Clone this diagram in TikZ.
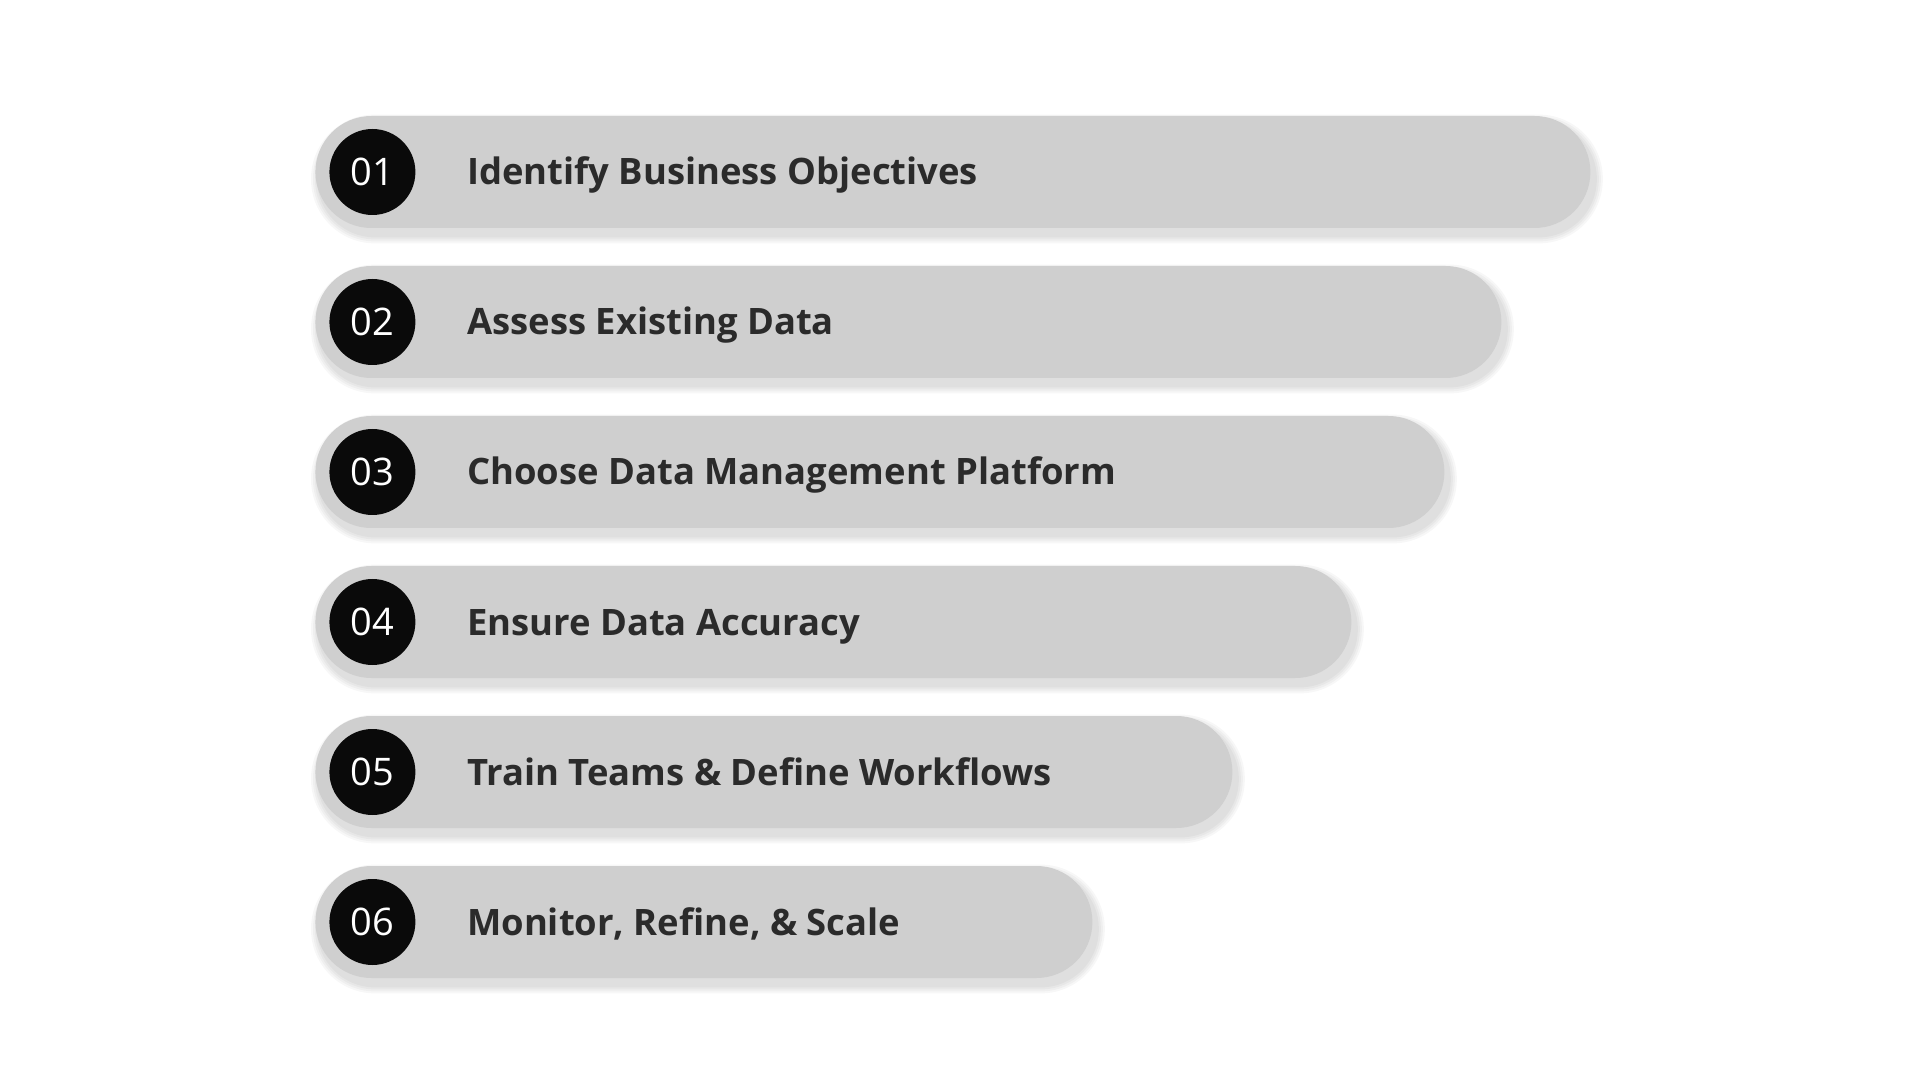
\documentclass[tikz,border=0pt]{standalone}
\usepackage{fontspec}
\setmainfont{Open Sans}
\usetikzlibrary{positioning,calc,backgrounds}
\definecolor{barfill}{HTML}{CFCFCF}
\definecolor{numfill}{HTML}{0A0A0A}
\definecolor{labeltext}{HTML}{2B2B2B}

\begin{document}
\begin{tikzpicture}[x=0.5pt,y=0.5pt,
    stepbar/.style={rectangle,rounded corners=28pt,fill=barfill,minimum height=56pt,inner sep=0pt,anchor=west},
    num/.style={circle,fill=numfill,text=white,minimum size=43pt,inner sep=0pt,font=\fontsize{19}{19}\selectfont},
    lbl/.style={inner sep=0pt,text=labeltext,text height=13pt,text depth=0pt,font=\fontsize{18.2}{18}\selectfont\bfseries},
    node distance=25.5pt
]
    \useasboundingbox (0,0) rectangle (1905,1072);
    \node[stepbar,minimum width=637.5pt] (b1) at (315,900) {};
    \node[stepbar,minimum width=593pt] (b2) at (315,750) {};
    \node[stepbar,minimum width=564.5pt] (b3) at (315,600) {};
    \node[stepbar,minimum width=518pt] (b4) at (315,450) {};
    \node[stepbar,minimum width=458.5pt] (b5) at (315,300) {};
    \node[stepbar,minimum width=388.5pt] (b6) at (315,150) {};
    \node[num,right=7pt of b1.west] (n1) {01};
    \node[num,right=7pt of b2.west] (n2) {02};
    \node[num,right=7pt of b3.west] (n3) {03};
    \node[num,right=7pt of b4.west] (n4) {04};
    \node[num,right=7pt of b5.west] (n5) {05};
    \node[num,right=7pt of b6.west] (n6) {06};
    \node[lbl,right=of n1] (l1) {Identify Business Objectives};
    \node[lbl,right=of n2] (l2) {Assess Existing Data};
    \node[lbl,right=of n3] (l3) {Choose Data Management Platform};
    \node[lbl,right=of n4] (l4) {Ensure Data Accuracy};
    \node[lbl,right=of n5] (l5) {Train Teams \& Define Workflows};
    \node[lbl,right=of n6] (l6) {Monitor, Refine, \& Scale};
    % soft shadow under each bar
    \begin{scope}[on background layer]
        \fill[white] (0,0) rectangle (1905,1072);
        \foreach \b in {b1,b2,b3,b4,b5,b6}
            \foreach \d in {2,4,...,8}
                \fill[black,opacity=0.03,rounded corners={28pt+0.5*\d pt}]
                    ($(\b.south west)+(4-\d,-7-\d)$) rectangle ($(\b.north east)+(4+\d,-7+\d)$);
    \end{scope}
\end{tikzpicture}
\end{document}
